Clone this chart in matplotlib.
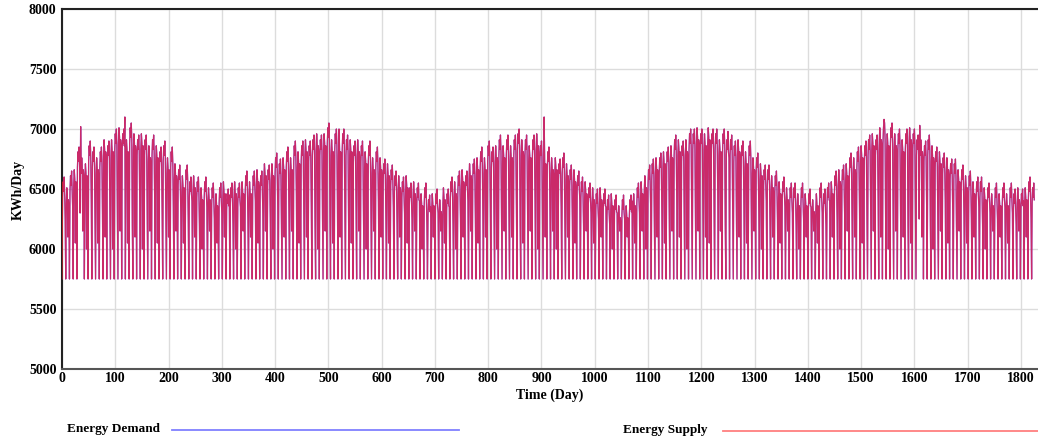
import numpy as np
from matplotlib import pyplot, lines

# weekday level of each week (KWh/Day), one value per week
week_level = [
    6500, 6450, 6550, 6600, 6750, 6700, 6650, 6800, 6750, 6700,
    6750, 6850, 6800, 6850, 6900, 6950, 6900, 6850, 6950, 6900,
    6850, 6900, 6850, 6800, 6850, 6800, 6750, 6800, 6700, 6750,
    6650, 6600, 6550, 6600, 6500, 6550, 6500, 6450, 6500, 6450,
    6450, 6400, 6450, 6500, 6400, 6450, 6500, 6450, 6500, 6550,
    6500, 6550, 6600, 6550, 6650, 6600, 6650, 6700, 6650, 6700,
    6750, 6700, 6800, 6750, 6800, 6850, 6800, 6850, 6900, 6850,
    6900, 6950, 6850, 6900, 6850, 6900, 6850, 6850, 6800, 6850,
    6800, 6750, 6800, 6700, 6750, 6700, 6650, 6650, 6600, 6550,
    6550, 6500, 6550, 6450, 6500, 6450, 6400, 6450, 6350, 6400,
    6400, 6350, 6450, 6400, 6500, 6500, 6550, 6600, 6550, 6650,
    6650, 6700, 6750, 6700, 6800, 6750, 6800, 6850, 6800, 6850,
    6800, 6850, 6900, 6850, 6850, 6800, 6850, 6900, 6800, 6750,
    6750, 6700, 6700, 6650, 6700, 6650, 6600, 6600, 6550, 6500,
    6500, 6450, 6450, 6400, 6450, 6400, 6350, 6400, 6350, 6300,
    6350, 6300, 6350, 6400, 6450, 6500, 6550, 6600, 6650, 6700,
    6700, 6750, 6750, 6800, 6850, 6850, 6800, 6850, 6900, 6900,
    6950, 6900, 6900, 6950, 6900, 6900, 6850, 6900, 6850, 6850,
    6800, 6850, 6800, 6750, 6800, 6700, 6700, 6650, 6600, 6600,
    6550, 6550, 6500, 6500, 6450, 6450, 6450, 6400, 6450, 6400,
    6400, 6350, 6400, 6450, 6400, 6450, 6500, 6550, 6600, 6600,
    6650, 6700, 6700, 6750, 6800, 6800, 6850, 6900, 6850, 6950,
    6950, 6900, 6950, 6900, 6900, 6850, 6900, 6950, 6900, 6850,
    6850, 6800, 6850, 6800, 6750, 6750, 6700, 6700, 6650, 6650,
    6600, 6600, 6550, 6550, 6500, 6500, 6500, 6450, 6450, 6400,
    6450, 6400, 6450, 6400, 6450, 6400, 6450, 6400, 6450, 6500,
    6450,
]

# partial drop of each week
week_dip = [
    6250, 6100, 6350, 6050, 6300, 6150, 6000, 6400, 6200, 6050,
    6300, 6100, 6250, 6000, 6350, 6150, 6450, 6050, 6200, 6100,
    6350, 6000, 6250, 6150, 6400, 6050, 6300, 6200, 6100, 6350,
    6150, 6300, 6050, 6250, 6400, 6100, 6200, 6000, 6350, 6150,
    6250, 6050, 6300, 6100, 6450, 6200, 6000, 6350, 6150, 6250,
    6100, 6400, 6050, 6300, 6150, 6250, 6000, 6350, 6200, 6100,
    6300, 6150, 6450, 6050, 6250, 6100, 6350, 6200, 6000, 6300,
    6150, 6250, 6050, 6400, 6100, 6300, 6200, 6050, 6350, 6150,
    6250, 6000, 6300, 6150, 6400, 6100, 6250, 6050, 6350, 6200,
    6100, 6300, 6050, 6250, 6150, 6400, 6000, 6200, 6350, 6100,
    6300, 6150, 6050, 6350, 6200, 6000, 6250, 6100, 6400, 6150,
    6250, 6050, 6300, 6100, 6350, 6200, 6000, 6300, 6150, 6250,
    6100, 6350, 6200, 6050, 6300, 6150, 6400, 6000, 6250, 6100,
    6300, 6150, 6000, 6350, 6200, 6100, 6250, 6050, 6400, 6200,
    6150, 6300, 6050, 6250, 6100, 6350, 6200, 6000, 6300, 6150,
    6250, 6100, 6400, 6050, 6300, 6150, 6000, 6350, 6200, 6100,
    6300, 6050, 6250, 6150, 6400, 6100, 6200, 6000, 6350, 6250,
    6150, 6300, 6100, 6050, 6250, 6400, 6150, 6200, 6000, 6300,
    6200, 6100, 6350, 6050, 6250, 6150, 6300, 6000, 6400, 6200,
    6100, 6250, 6050, 6350, 6150, 6300, 6200, 6000, 6250, 6100,
    6350, 6150, 6050, 6300, 6200, 6400, 6100, 6250, 6000, 6300,
    6150, 6250, 6100, 6350, 6050, 6200, 6300, 6150, 6400, 6100,
    6250, 6000, 6300, 6150, 6350, 6100, 6200, 6050, 6300, 6250,
    6100, 6350, 6200, 6000, 6250, 6150, 6400, 6050, 6300, 6200,
    6150, 6300, 6050, 6250, 6100, 6350, 6200, 6000, 6300, 6150,
    6250, 6100, 6350, 6050, 6300, 6200, 6150, 6400, 6100, 6250,
    6300,
]

# offsets from the week level for days 1..6 (day 0 is the weekly low)
weekday_offset = [-70, 60, -20, 100, -40, -90]
weekend_low = 5750
spikes = {35: 7020, 118: 7100, 520: 7000, 905: 7100, 1250: 6980, 1543: 7080, 1610: 7030}
n_days = 1826

x_ticks = list(range(0, 1801, 100))
y_ticks = [5000, 5500, 6000, 6500, 7000, 7500, 8000]

W, H = 1038, 436
SERIF = ['Liberation Serif', 'DejaVu Serif']


def daily_series():
    vals = []
    for d in range(n_days):
        w, dow = divmod(d, 7)
        if dow == 0:
            vals.append(weekend_low)
            continue
        # deep partial drops fall mid-week, shallow ones next to the weekly low
        dip_day = 4 if week_dip[w] < 6200 else 6
        if dow == dip_day:
            vals.append(week_dip[w])
        else:
            vals.append(week_level[w] + weekday_offset[dow - 1])
    for d, v in spikes.items():
        vals[d] = v
    return np.array(vals, dtype=float)


demand = daily_series()
supply = demand.copy()
days = np.arange(n_days)

fig = pyplot.figure(figsize=(W / 100, H / 100), dpi=100)
ax = fig.add_axes([62 / W, 67 / H, 976 / W, 360 / H])
ax.plot(days, demand, color='#5050ff', linewidth=0.9, zorder=2)
ax.plot(days, supply, color='#ff1a2a', linewidth=0.9, alpha=0.7, zorder=3)

ax.set_xlim(0, 1832)
ax.set_ylim(5000, 8000)
ax.set_xticks(x_ticks)
ax.set_yticks(y_ticks)
ax.set_xticklabels([str(t) for t in x_ticks], family=SERIF, weight='bold', fontsize=10)
ax.set_yticklabels([str(t) for t in y_ticks], family=SERIF, weight='bold', fontsize=10)
ax.tick_params(length=0)
ax.tick_params(axis='x', pad=2)
ax.tick_params(axis='y', pad=4)
ax.grid(True, color='#dcdcdc', linewidth=1.0, zorder=0)
ax.set_axisbelow(True)

for side in ('left', 'top'):
    ax.spines[side].set_color('#222222')
    ax.spines[side].set_linewidth(1.5)
ax.spines['bottom'].set_color('#555555')
ax.spines['bottom'].set_linewidth(1.5)
ax.spines['right'].set_visible(False)

fig.text(18 / W, 1 - 190 / H, 'KWh/Day', rotation=90, ha='center', va='center',
         family=SERIF, weight='bold', fontsize=10)
fig.text(550 / W, 1 - 395 / H, 'Time (Day)', ha='center', va='center',
         family=SERIF, weight='bold', fontsize=10)

# legend below the chart
fig.text(67 / W, 1 - 429 / H, 'Energy Demand', ha='left', va='center',
         family=SERIF, weight='bold', fontsize=9.5)
fig.add_artist(lines.Line2D([172 / W, 459 / W], [1 - 430 / H] * 2,
                            color='#8080ff', linewidth=1.3, transform=fig.transFigure))
fig.text(623 / W, 1 - 430 / H, 'Energy Supply', ha='left', va='center',
         family=SERIF, weight='bold', fontsize=9.5)
fig.add_artist(lines.Line2D([723 / W, 1.0], [1 - 431 / H] * 2,
                            color='#ff7f7f', linewidth=1.3, transform=fig.transFigure))

fig.savefig('out.png', dpi=100)
